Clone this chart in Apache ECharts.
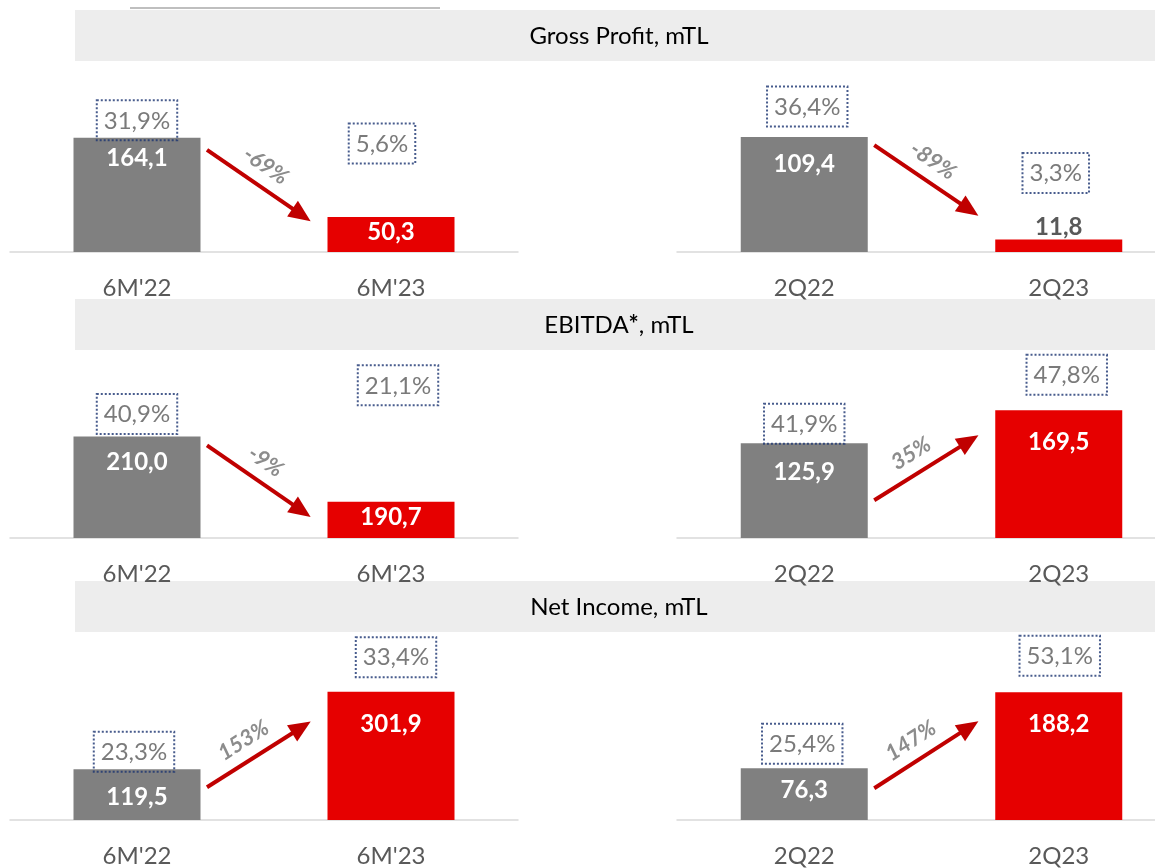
<!DOCTYPE html>
<html>
<head>
<meta charset="utf-8">
<script src="https://cdn.jsdelivr.net/npm/echarts@6/dist/echarts.min.js"></script>
<style>
  html, body { margin: 0; background: #fff; overflow: hidden; width: 1155px; height: 868px; }
  #chart { width: 1190px; height: 868px; }
</style>
</head>
<body>
<div id="chart"></div>
<script>
// categories
const halfYear = ["6M'22", "6M'23"]
const quarter = ['2Q22', '2Q23']
const sections = ['Gross Profit, mTL', 'EBITDA{b|*}, mTL', 'Net Income, mTL']

// values, mTL
const grossHalf = [164.1, 50.3]
const grossQuarter = [109.4, 11.8]
const ebitdaHalf = [210.0, 190.7]
const ebitdaQuarter = [125.9, 169.5]
const netHalf = [119.5, 301.9]
const netQuarter = [76.3, 188.2]

// margins, %
const grossHalfMargin = [31.9, 5.6]
const grossQuarterMargin = [36.4, 3.3]
const ebitdaHalfMargin = [40.9, 21.1]
const ebitdaQuarterMargin = [41.9, 47.8]
const netHalfMargin = [23.3, 33.4]
const netQuarterMargin = [25.4, 53.1]

// yoy change, %
const growth = [-69, -89, -9, 35, 153, 147]

const panels = [
  { cats: halfYear, values: grossHalf, margins: grossHalfMargin },
  { cats: quarter, values: grossQuarter, margins: grossQuarterMargin },
  { cats: halfYear, values: ebitdaHalf, margins: ebitdaHalfMargin },
  { cats: quarter, values: ebitdaQuarter, margins: ebitdaQuarterMargin },
  { cats: halfYear, values: netHalf, margins: netHalfMargin },
  { cats: quarter, values: netQuarter, margins: netQuarterMargin }
]

// layout tweaks (not data)
const axisRange = [[0, 250], [0, 165.6], [180, 231.1], [0, 229.7], [0, 407], [0, 255]]
const rowTop = [78, 365, 647]
const rowHeight = [174, 173, 173]
const headerTop = [10, 299, 581]
const marginShift = [            // [dx, gap above bar top]
  [[0, -3], [-9, 53]], [[3, 10], [-3, 46]],
  [[0, 2], [7, 96]], [[0, -1], [8, 15]],
  [[-3, -3], [5, 14]], [[-2, 4], [1, 16]]
]
const valueLabelDy = [[2, -3], [9, 0], [8, -3], [11, 14], [10, 15], [4, 14]]
const arrowDy = [[12, 3], [8, -25], [9, 14], [57, 26], [18, 31], [20, 30]]

const FONT = 'Lato'
const GRAY = '#808080'
const RED = '#e60000'
const TEXT = '#595959'

const fmt = v => v.toFixed(1).replace('.', ',')

const chart = echarts.init(document.getElementById('chart'))

const grids = [], xAxes = [], yAxes = [], series = []
panels.forEach((p, i) => {
  const row = Math.floor(i / 2)
  const right = i % 2 === 1
  grids.push({
    left: right ? 677 : 10,
    width: right ? 509 : 508,
    top: rowTop[row],
    height: rowHeight[row]
  })
  xAxes.push({
    type: 'category',
    gridIndex: i,
    data: p.cats,
    axisLine: { show: true, onZero: false, lineStyle: { color: '#d9d9d9', width: 1.5 } },
    axisTick: { show: false },
    axisLabel: { color: TEXT, fontSize: 24, fontFamily: FONT, margin: 24 }
  })
  const [mn, mx] = axisRange[i]
  yAxes.push({
    type: 'value', gridIndex: i, min: mn, max: mx,
    show: false, splitLine: { show: false }
  })
  series.push({
    id: 'bar' + i,
    type: 'bar',
    xAxisIndex: i,
    yAxisIndex: i,
    barWidth: 127,
    silent: true,
    animation: false,
    data: p.values.map((v, j) => {
      const px = (v - mn) / (mx - mn) * rowHeight[row]
      const item = {
        value: v,
        itemStyle: { color: j ? RED : GRAY },
        label: { offset: [0, valueLabelDy[i][j]] }
      }
      if (px < 30) item.label = { position: 'top', distance: 0, color: TEXT }
      return item
    }),
    label: {
      show: true,
      position: 'insideTop',
      distance: 6,
      color: '#fff',
      fontWeight: 'bold',
      fontSize: 24,
      fontFamily: FONT,
      formatter: d => fmt(d.value)
    }
  })
  series.push({
    type: 'scatter',
    xAxisIndex: i,
    yAxisIndex: i,
    symbolSize: 1,
    silent: true,
    animation: false,
    itemStyle: { color: 'rgba(0,0,0,0)' },
    data: p.values.map((v, j) => ({
      value: [j, v],
      label: { offset: [marginShift[i][j][0], -marginShift[i][j][1]] }
    })),
    label: {
      show: true,
      position: 'top',
      distance: 0,
      color: TEXT,
      fontSize: 24,
      fontFamily: FONT,
      lineHeight: 27,
      padding: [7, 7, 6, 7],
      borderColor: '#1a3370',
      borderWidth: 2,
      borderType: 'dotted',
      formatter: d => fmt(p.margins[d.dataIndex]) + '%'
    }
  })
})

const graphic = [
  { type: 'line', shape: { x1: 130, y1: 8, x2: 440, y2: 8 }, style: { stroke: '#bfbfbf', lineWidth: 2 } }
]
sections.forEach((s, r) => {
  graphic.push({
    type: 'rect',
    shape: { x: 75, y: headerTop[r], width: 1115, height: 51 },
    style: { fill: '#ededed' },
    z: -1
  })
  graphic.push({
    type: 'text',
    x: 619,
    y: headerTop[r] + 26,
    style: {
      text: s,
      align: 'center',
      verticalAlign: 'middle',
      fontSize: 24,
      fontFamily: FONT,
      fill: '#000',
      rich: { b: { fontSize: 24, fontFamily: FONT, fontWeight: 'bold', fill: '#000' } }
    }
  })
})

chart.setOption({
  animation: false,
  grid: grids,
  xAxis: xAxes,
  yAxis: yAxes,
  series: series,
  graphic: graphic
})

// arrows with yoy change, placed from the bars' pixel positions
const arrowSeries = panels.map((p, i) => {
  const a = chart.convertToPixel({ seriesId: 'bar' + i }, [0, p.values[0]])
  const b = chart.convertToPixel({ seriesId: 'bar' + i }, [1, p.values[1]])
  const x1 = a[0] + 70, y1 = a[1] + arrowDy[i][0]
  let x2 = b[0] - 82, y2 = b[1] + arrowDy[i][1]
  const len = Math.hypot(x2 - x1, y2 - y1)
  x2 -= (x2 - x1) / len * 9
  y2 -= (y2 - y1) / len * 9
  return {
    id: 'bar' + i,
    markLine: {
      silent: true,
      animation: false,
      symbol: ['none', 'triangle'],
      symbolSize: [19, 22],
      lineStyle: { color: '#c00000', width: 4, type: 'solid' },
      label: {
        show: true,
        position: 'insideMiddleTop',
        distance: 9,
        color: '#8c8c8c',
        fontSize: 22,
        fontWeight: 'bold',
        fontStyle: 'italic',
        fontFamily: FONT,
        formatter: growth[i] + '%'
      },
      data: [[{ x: x1, y: y1 }, { x: x2, y: y2 }]]
    }
  }
})
chart.setOption({ series: arrowSeries })
</script>
</body>
</html>
